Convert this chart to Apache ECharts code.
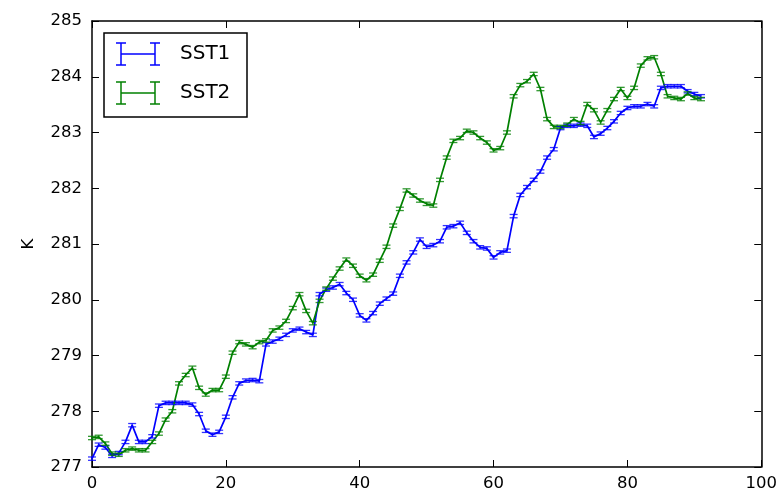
<!DOCTYPE html>
<html>
<head>
<meta charset="utf-8">
<script src="https://cdn.jsdelivr.net/npm/echarts@6/dist/echarts.min.js"></script>
<style>
  html, body { margin: 0; padding: 0; background: #ffffff; }
  #chart { width: 780px; height: 495px; }
</style>
</head>
<body>
<div id="chart"></div>
<script>
// Sea surface temperature series (K), one value per step starting at 0
const sst1 = [
  277.15, 277.40, 277.35, 277.20, 277.25, 277.45, 277.75, 277.45, 277.45, 277.55,
  278.10, 278.15, 278.15, 278.15, 278.15, 278.12, 277.95, 277.65, 277.58, 277.63,
  277.90, 278.25, 278.50, 278.55, 278.56, 278.54, 279.20, 279.25, 279.30, 279.37,
  279.45, 279.48, 279.42, 279.37, 280.10, 280.18, 280.22, 280.28, 280.12, 280.00,
  279.72, 279.63, 279.76, 279.93, 280.02, 280.11, 280.43, 280.67, 280.85, 281.08,
  280.95, 280.98, 281.05, 281.30, 281.32, 281.38, 281.20, 281.05, 280.94, 280.92,
  280.76, 280.85, 280.88, 281.50, 281.88, 282.02, 282.15, 282.30, 282.55, 282.70,
  283.08, 283.12, 283.12, 283.14, 283.12, 282.92, 282.98, 283.08, 283.20, 283.35,
  283.44, 283.47, 283.47, 283.51, 283.47, 283.80, 283.83, 283.83, 283.83, 283.74,
  283.69, 283.65
];
const sst2 = [
  277.52, 277.54, 277.42, 277.24, 277.22, 277.30, 277.33, 277.30, 277.30, 277.45,
  277.60, 277.85, 278.00, 278.50, 278.65, 278.78, 278.42, 278.30, 278.38, 278.38,
  278.62, 279.05, 279.24, 279.20, 279.15, 279.24, 279.27, 279.45, 279.50, 279.62,
  279.85, 280.10, 279.80, 279.58, 279.98, 280.20, 280.38, 280.56, 280.72, 280.61,
  280.43, 280.35, 280.45, 280.70, 280.95, 281.33, 281.63, 281.96, 281.87, 281.78,
  281.72, 281.69, 282.15, 282.55, 282.85, 282.90, 283.03, 283.00, 282.90, 282.82,
  282.68, 282.72, 283.00, 283.65, 283.85, 283.92, 284.05, 283.78, 283.24, 283.10,
  283.10, 283.14, 283.24, 283.17, 283.51, 283.40, 283.18, 283.40, 283.60, 283.78,
  283.62, 283.80, 284.20, 284.33, 284.35, 284.05, 283.65, 283.62, 283.60, 283.70,
  283.62, 283.60
];
// Half-height of the error bars (K)
const sstErr = 0.03;

const seriesNames = ['SST1', 'SST2'];
const seriesColors = ['#0000ff', '#008000'];
const xTicks = [0, 20, 40, 60, 80, 100];
const yTicks = [277, 278, 279, 280, 281, 282, 283, 284, 285];

const FONT = 'DejaVu Sans';

function pairs(values) {
  return values.map((v, i) => [i, v, sstErr]);
}

function errorBarSeries(values, color) {
  return {
    type: 'custom',
    data: pairs(values),
    encode: { x: 0, y: 1 },
    z: 3,
    silent: true,
    renderItem: function (params, api) {
      const x = api.value(0), y = api.value(1), e = api.value(2);
      const top = api.coord([x, y + e]);
      const bot = api.coord([x, y - e]);
      const hw = 4;
      const style = { stroke: color, lineWidth: 1.3, opacity: 0.8 };
      return {
        type: 'group',
        children: [
          { type: 'line', shape: { x1: top[0], y1: top[1], x2: bot[0], y2: bot[1] }, style: style },
          { type: 'line', shape: { x1: top[0] - hw, y1: top[1], x2: top[0] + hw, y2: top[1] }, style: style },
          { type: 'line', shape: { x1: bot[0] - hw, y1: bot[1], x2: bot[0] + hw, y2: bot[1] }, style: style }
        ]
      };
    }
  };
}

function lineSeries(values, name, color) {
  return {
    name: name,
    type: 'line',
    data: pairs(values),
    encode: { x: 0, y: 1 },
    showSymbol: false,
    symbol: 'none',
    z: 2,
    lineStyle: { color: color, width: 1.7 },
    itemStyle: { color: color },
    animation: false
  };
}

// Legend drawn as errorbar handles with labels inside a framed box
function legendEntry(y, name, color) {
  const x1 = 121, x2 = 155, h = 11, cap = 5;
  const s = { stroke: color, lineWidth: 1.5 };
  return [
    { type: 'line', shape: { x1: x1, y1: y, x2: x2, y2: y }, style: s },
    { type: 'line', shape: { x1: x1, y1: y - h, x2: x1, y2: y + h }, style: s },
    { type: 'line', shape: { x1: x2, y1: y - h, x2: x2, y2: y + h }, style: s },
    { type: 'line', shape: { x1: x1 - cap, y1: y - h, x2: x1 + cap, y2: y - h }, style: s },
    { type: 'line', shape: { x1: x1 - cap, y1: y + h, x2: x1 + cap, y2: y + h }, style: s },
    { type: 'line', shape: { x1: x2 - cap, y1: y - h, x2: x2 + cap, y2: y - h }, style: s },
    { type: 'line', shape: { x1: x2 - cap, y1: y + h, x2: x2 + cap, y2: y + h }, style: s },
    {
      type: 'text',
      style: {
        x: 180, y: y, text: name, fill: '#000000',
        font: '20px "' + FONT + '"', textVerticalAlign: 'middle'
      }
    }
  ];
}

const chart = echarts.init(document.getElementById('chart'), null, { renderer: 'canvas' });

const tickLabelStyle = { color: '#000000', fontFamily: FONT, fontSize: 16.5 };

const option = {
  animation: false,
  backgroundColor: '#ffffff',
  grid: { left: 92, right: 16, top: 21, bottom: 28, containLabel: false },
  xAxis: [
    {
      type: 'value', min: xTicks[0], max: xTicks[xTicks.length - 1], interval: 20,
      axisLine: { show: true, onZero: false, lineStyle: { color: '#000000', width: 1.5 } },
      axisTick: { show: true, inside: true, length: 7, lineStyle: { color: '#000000', width: 1 } },
      axisLabel: Object.assign({ margin: 8 }, tickLabelStyle),
      splitLine: { show: false }
    },
    {
      type: 'value', position: 'top', min: xTicks[0], max: xTicks[xTicks.length - 1], interval: 20,
      axisLine: { show: true, onZero: false, lineStyle: { color: '#000000', width: 1.5 } },
      axisTick: { show: true, inside: true, length: 7, lineStyle: { color: '#000000', width: 1 } },
      axisLabel: { show: false },
      splitLine: { show: false }
    }
  ],
  yAxis: [
    {
      type: 'value', min: yTicks[0], max: yTicks[yTicks.length - 1], interval: 1,
      name: 'K', nameLocation: 'middle', nameGap: 55, nameRotate: 90,
      nameTextStyle: { color: '#000000', fontFamily: FONT, fontSize: 16.5 },
      axisLine: { show: true, onZero: false, lineStyle: { color: '#000000', width: 1.5 } },
      axisTick: { show: true, inside: true, length: 7, lineStyle: { color: '#000000', width: 1 } },
      axisLabel: Object.assign({ margin: 10 }, tickLabelStyle),
      splitLine: { show: false }
    },
    {
      type: 'value', position: 'right', min: yTicks[0], max: yTicks[yTicks.length - 1], interval: 1,
      axisLine: { show: true, onZero: false, lineStyle: { color: '#000000', width: 1.5 } },
      axisTick: { show: true, inside: true, length: 7, lineStyle: { color: '#000000', width: 1 } },
      axisLabel: { show: false },
      splitLine: { show: false }
    }
  ],
  series: [
    lineSeries(sst1, seriesNames[0], seriesColors[0]),
    errorBarSeries(sst1, seriesColors[0]),
    lineSeries(sst2, seriesNames[1], seriesColors[1]),
    errorBarSeries(sst2, seriesColors[1])
  ],
  graphic: [
    {
      type: 'group', z: 20,
      children: [
        {
          type: 'rect', z: 20,
          shape: { x: 104, y: 33, width: 143, height: 84 },
          style: { fill: '#ffffff', stroke: '#000000', lineWidth: 1.5 }
        }
      ].concat(
        legendEntry(54, seriesNames[0], seriesColors[0]),
        legendEntry(93, seriesNames[1], seriesColors[1])
      ).map(function (el, k) { return Object.assign({ z: k === 0 ? 20 : 21 }, el); })
    }
  ]
};

chart.setOption(option);
</script>
</body>
</html>
